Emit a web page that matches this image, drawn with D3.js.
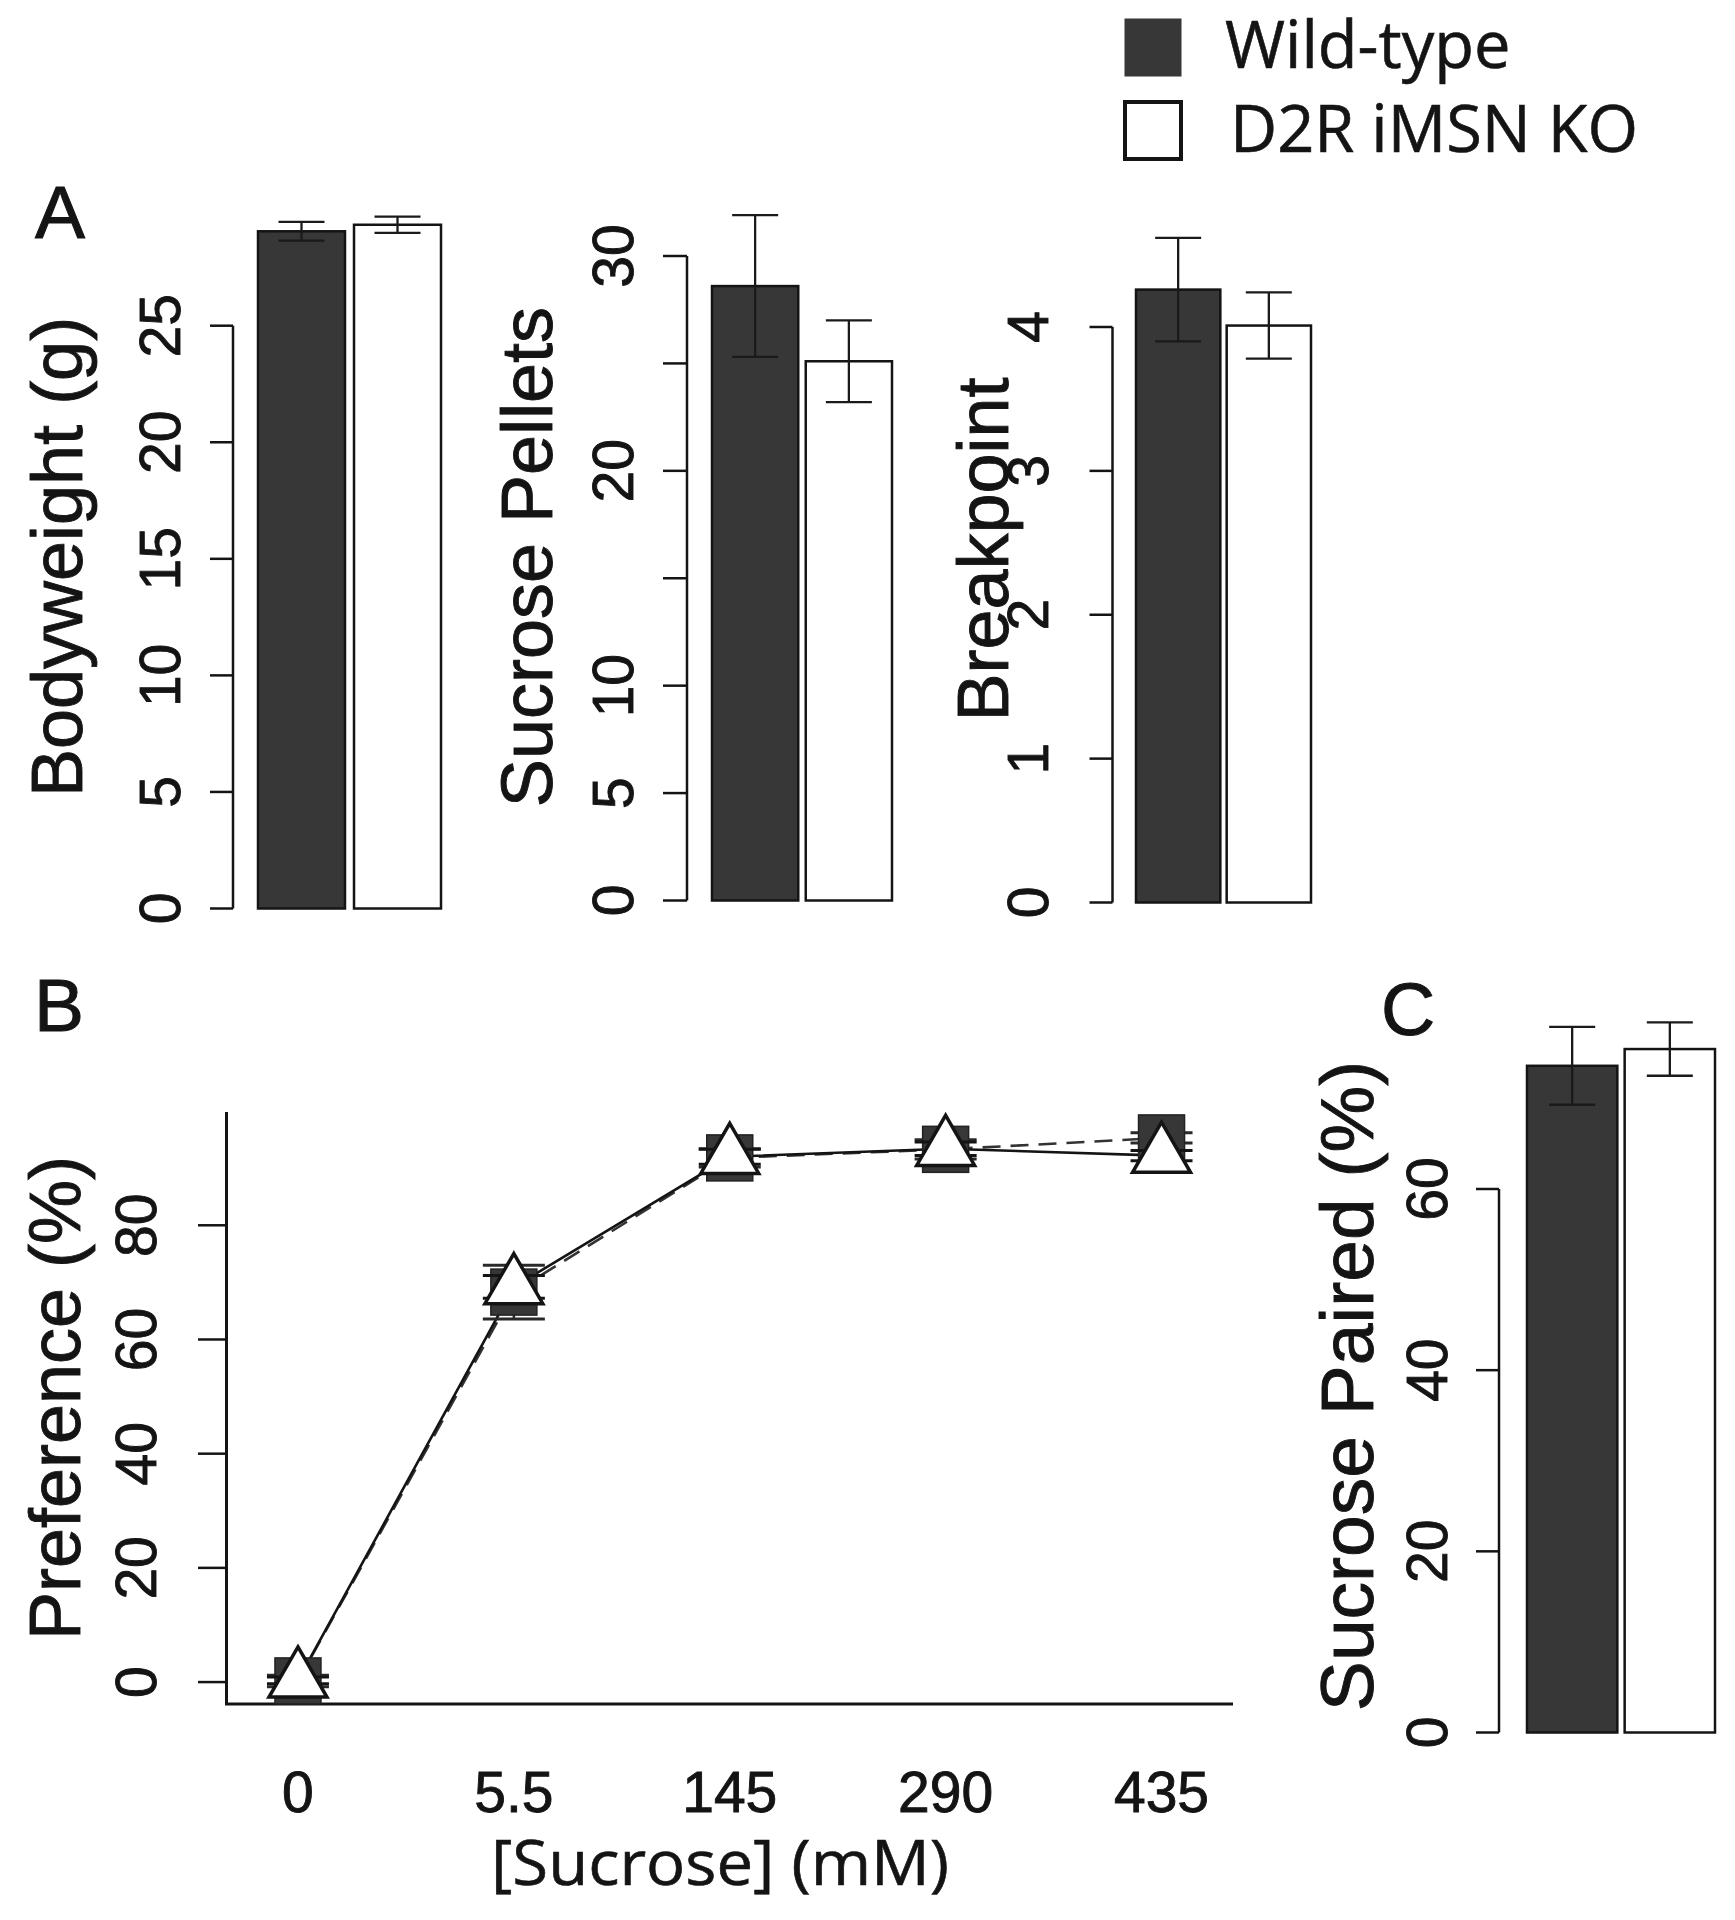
<!DOCTYPE html>
<html>
<head>
<meta charset="utf-8">
<script src="https://cdn.jsdelivr.net/npm/d3@7"></script>
<style>
  html, body { margin: 0; padding: 0; background: #fff; }
  svg { display: block; }
</style>
</head>
<body>
<script>
// ---------------- DATA ----------------
const groups = ["Wild-type", "D2R iMSN KO"];
const bodyweight = [29.05, 29.33];
const bodyweightErr = [0.4, 0.35];
const pellets = [28.6, 25.1];
const pelletsErr = [3.3, 1.9];
const breakpoint = [4.26, 4.01];
const breakpointErr = [0.36, 0.23];
const sucrosePaired = [73.6, 75.45];
const sucrosePairedErr = [4.3, 2.95];

const concentrations = ["0", "5.5", "145", "290", "435"];
const prefWT = [0.2, 68.3, 91.8, 93.3, 95.3];
const prefWTErr = [1.0, 4.7, 1.6, 1.7, 0.9];
const prefKO = [0.3, 69.2, 92.0, 93.4, 92.2];
const prefKOErr = [0.6, 2.0, 1.3, 1.2, 0.9];

const bwTicks = [0, 5, 10, 15, 20, 25];
const bwLabels = ["0", "5", "10", "15", "20", "25"];
const pelTicks = [0, 5, 10, 15, 20, 25, 30];
const pelLabels = ["0", "5", "10", "", "20", "", "30"];
const bpTicks = [0, 1, 2, 3, 4];
const bpLabels = ["0", "1", "2", "3", "4"];
const spTicks = [0, 20, 40, 60];
const spLabels = ["0", "20", "40", "60"];
const prefTicks = [0, 20, 40, 60, 80];
const prefLabels = ["0", "20", "40", "60", "80"];

// ---------------- STYLE ----------------
const W = 1735, H = 1920;
const DARK = "#373737";
const INK = "#141414";
const SANS = "'Liberation Sans', Arial, Helvetica, sans-serif";
const TICKFS = 57, TITLEFS = 72;

const svg = d3.select("body").append("svg")
  .attr("width", W).attr("height", H)
  .attr("viewBox", `0 0 ${W} ${H}`);
svg.append("rect").attr("width", W).attr("height", H).attr("fill", "#fff");

function rotText(g, x, y, txt, fs) {
  g.append("text")
    .attr("transform", `translate(${x},${y}) rotate(-90)`)
    .attr("text-anchor", "middle")
    .attr("font-family", SANS)
    .attr("font-size", fs)
    .attr("fill", INK)
    .attr("stroke", INK).attr("stroke-width", 0.9)
    .text(txt);
}

// Bar panel
function barPanel(cfg) {
  const g = svg.append("g");
  const y = d3.scaleLinear().domain(cfg.domain).range(cfg.yRange);
  const xb = d3.scaleBand().domain(groups).range(cfg.barRange).paddingInner(cfg.padIn);

  g.append("line")
    .attr("x1", cfg.axisX).attr("x2", cfg.axisX)
    .attr("y1", y(cfg.ticks[0])).attr("y2", y(cfg.ticks[cfg.ticks.length - 1]))
    .attr("stroke", INK).attr("stroke-width", 2.5);
  cfg.ticks.forEach((t, i) => {
    g.append("line")
      .attr("x1", cfg.axisX - cfg.tickLen).attr("x2", cfg.axisX)
      .attr("y1", y(t)).attr("y2", y(t))
      .attr("stroke", INK).attr("stroke-width", 2.5);
    if (cfg.labels[i] !== "") rotText(g, cfg.labelX, y(t), cfg.labels[i], TICKFS);
  });

  groups.forEach((grp, i) => {
    g.append("rect")
      .attr("x", xb(grp)).attr("width", xb.bandwidth())
      .attr("y", y(cfg.values[i])).attr("height", y(0) - y(cfg.values[i]))
      .attr("fill", i === 0 ? DARK : "#fff")
      .attr("stroke", INK).attr("stroke-width", 2.5);
  });
  groups.forEach((grp, i) => {
    const cx = xb(grp) + xb.bandwidth() / 2;
    const lo = y(cfg.values[i] - cfg.errs[i]), hi = y(cfg.values[i] + cfg.errs[i]);
    const cw = 23;
    const col = "#1a1a1a";
    g.append("line").attr("x1", cx).attr("x2", cx).attr("y1", lo).attr("y2", hi)
      .attr("stroke", col).attr("stroke-width", 2.3);
    [lo, hi].forEach(v => g.append("line").attr("x1", cx - cw).attr("x2", cx + cw)
      .attr("y1", v).attr("y2", v).attr("stroke", col).attr("stroke-width", 2.3));
  });

  rotText(g, cfg.titleX, cfg.titleY, cfg.title, cfg.titleFs || TITLEFS);
}

barPanel({
  domain: [0, 25], yRange: [908.5, 325.7], axisX: 233, tickLen: 23,
  ticks: bwTicks, labels: bwLabels, labelX: 180,
  barRange: [258, 441], padIn: 0.094,
  values: bodyweight, errs: bodyweightErr,
  title: "Bodyweight (g)", titleX: 82, titleY: 557
});
barPanel({
  domain: [0, 30], yRange: [900.5, 256], axisX: 687, tickLen: 24,
  ticks: pelTicks, labels: pelLabels, labelX: 633,
  barRange: [712, 892], padIn: 0.08,
  values: pellets, errs: pelletsErr,
  title: "Sucrose Pellets", titleX: 552, titleY: 557
});
barPanel({
  domain: [0, 4], yRange: [902.5, 327], axisX: 1112.5, tickLen: 23,
  ticks: bpTicks, labels: bpLabels, labelX: 1048,
  barRange: [1136, 1311], padIn: 0.07,
  values: breakpoint, errs: breakpointErr,
  title: "Breakpoint", titleX: 1008, titleY: 549.5
});
barPanel({
  domain: [0, 60], yRange: [1732.5, 1189], axisX: 1499, tickLen: 23,
  ticks: spTicks, labels: spLabels, labelX: 1447,
  barRange: [1527, 1715], padIn: 0.075,
  values: sucrosePaired, errs: sucrosePairedErr,
  title: "Sucrose Paired (%)", titleX: 1373, titleY: 1386, titleFs: 75
});

// ---------------- Panel B line chart ----------------
(function () {
  const g = svg.append("g");
  const y = d3.scaleLinear().domain([-3.84, 99.84]).range([1704, 1112]);
  const x = d3.scalePoint().domain(concentrations).range([226.5, 1233]).padding(0.331);

  g.append("path")
    .attr("d", `M226.5,${y(99.84)} L226.5,${y(-3.84)} L1233,${y(-3.84)}`)
    .attr("fill", "none").attr("stroke", INK).attr("stroke-width", 3);
  prefTicks.forEach((t, i) => {
    g.append("line").attr("x1", 198).attr("x2", 226.5).attr("y1", y(t)).attr("y2", y(t))
      .attr("stroke", INK).attr("stroke-width", 2.5);
    rotText(g, 156, y(t), prefLabels[i], TICKFS);
  });
  concentrations.forEach(c => {
    g.append("text").attr("x", x(c)).attr("y", 1812)
      .attr("text-anchor", "middle").attr("font-family", SANS)
      .attr("font-size", TICKFS).attr("fill", INK)
      .attr("stroke", INK).attr("stroke-width", 0.9).text(c);
  });
  rotText(g, 80, 1398, "Preference (%)", TITLEFS);
  g.append("text").attr("x", 720).attr("y", 1885)
    .attr("text-anchor", "middle")
    .attr("font-family", "'Open Sans', 'Noto Sans', sans-serif")
    .attr("font-size", 63).attr("fill", INK)
    .attr("stroke", INK).attr("stroke-width", 0.6)
    .attr("textLength", 458).attr("lengthAdjust", "spacingAndGlyphs")
    .text("[Sucrose] (mM)");

  const line = d3.line().x(d => x(d.c)).y(d => y(d.v));
  const wt = concentrations.map((c, i) => ({ c, v: prefWT[i], e: prefWTErr[i] }));
  const ko = concentrations.map((c, i) => ({ c, v: prefKO[i], e: prefKOErr[i] }));

  g.append("path").attr("d", line(wt)).attr("fill", "none")
    .attr("stroke", "#333").attr("stroke-width", 2.6).attr("stroke-dasharray", "18,10");
  g.append("path").attr("d", line(ko)).attr("fill", "none")
    .attr("stroke", INK).attr("stroke-width", 2.6);

  function errBars(data, col) {
    data.forEach(d => {
      const cx = x(d.c), lo = y(d.v - d.e), hi = y(d.v + d.e);
      g.append("line").attr("x1", cx).attr("x2", cx).attr("y1", lo).attr("y2", hi)
        .attr("stroke", col).attr("stroke-width", 2.5);
      [lo, hi].forEach(v => g.append("line").attr("x1", cx - 31).attr("x2", cx + 31)
        .attr("y1", v).attr("y2", v).attr("stroke", col).attr("stroke-width", 3));
    });
  }
  errBars(wt, "#2a2a2a");
  const hs = 23;
  wt.forEach(d => {
    g.append("rect").attr("x", x(d.c) - hs).attr("y", y(d.v) - hs)
      .attr("width", 2 * hs).attr("height", 2 * hs)
      .attr("fill", DARK).attr("stroke", "#222").attr("stroke-width", 1.5);
  });
  errBars(ko, INK);
  const r = 21.5;
  const tri = `M0,${-1.5551 * r} L${1.3468 * r},${0.7776 * r} L${-1.3468 * r},${0.7776 * r} Z`;
  ko.forEach(d => {
    g.append("path").attr("d", tri)
      .attr("transform", `translate(${x(d.c)},${y(d.v)})`)
      .attr("fill", "#fff").attr("stroke", INK).attr("stroke-width", 3.5)
      .attr("stroke-linejoin", "miter");
  });
})();

// ---------------- Panel letters ----------------
[["A", 35, 238], ["B", 34, 1031], ["C", 1381, 1035]].forEach(([t, x, yy]) => {
  svg.append("text").attr("x", x).attr("y", yy)
    .attr("font-family", SANS).attr("font-size", 75).attr("fill", INK)
    .attr("stroke", INK).attr("stroke-width", 1).text(t);
});

// ---------------- Legend ----------------
(function () {
  const lg = svg.append("g");
  const fills = [DARK, "#fff"];
  const rows = [{ y: 19, base: 68 }, { y: 102, base: 152 }];
  groups.forEach((grp, i) => {
    lg.append("rect").attr("x", 1125).attr("y", rows[i].y)
      .attr("width", 56).attr("height", 57)
      .attr("fill", fills[i])
      .attr("stroke", i === 0 ? DARK : INK).attr("stroke-width", i === 0 ? 1 : 4);
    lg.append("text").attr("x", i === 0 ? 1225 : 1230).attr("y", rows[i].base)
      .attr("font-family", "'Open Sans', 'Noto Sans', sans-serif")
      .attr("font-size", 65).attr("fill", INK)
      .attr("stroke", INK).attr("stroke-width", 0.6)
      .text(grp);
  });
})();
</script>
</body>
</html>
